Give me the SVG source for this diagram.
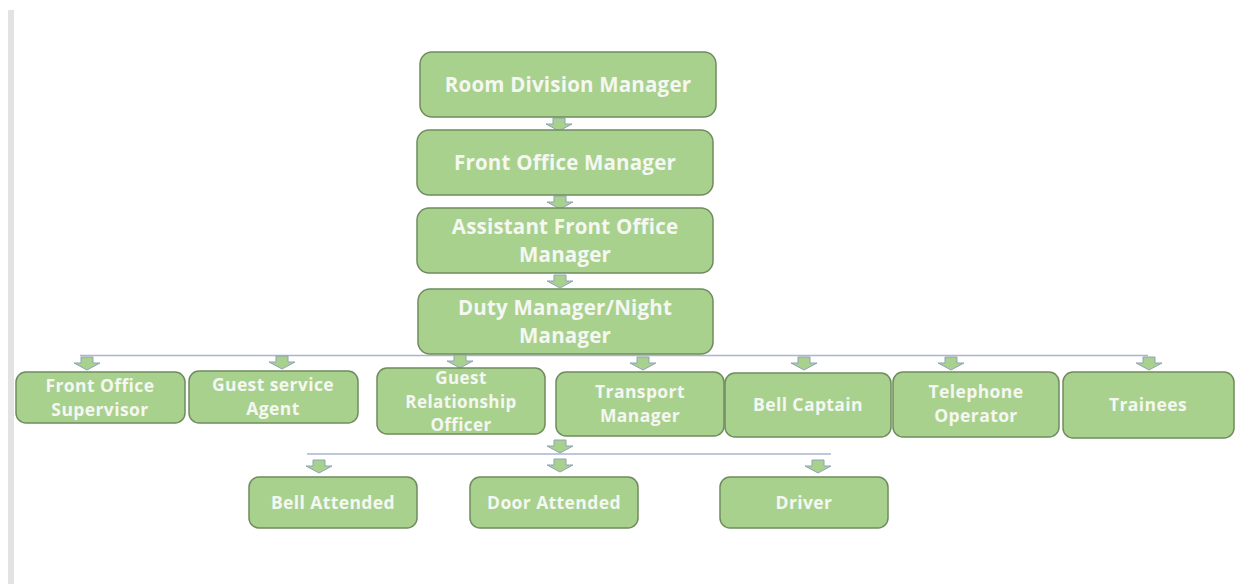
<svg xmlns="http://www.w3.org/2000/svg" width="1251" height="584" viewBox="0 0 1251 584">
  <defs>
    <style>
      .box { fill: #a9d18e; stroke: #6f8c5e; stroke-width: 1.5; }
      .lbl { font-family: "Open Sans", "Liberation Sans", sans-serif; font-weight: 700; fill: #f5f7f2; text-anchor: middle; }
      .big { font-size: 20.5px; letter-spacing: 0.2px; }
      .sm { font-size: 17.5px; letter-spacing: 0.4px; }
      .xs { font-size: 17px; letter-spacing: 0.4px; }
      .bus { stroke: #a7b6cf; stroke-width: 1.5; fill: none; }
      .arr { fill: #a9d18e; stroke: #8ea3b8; stroke-width: 1; }
    </style>
    <!-- block arrow, tip at (0,13) -->
    <path id="down" d="M-6,0 H6 V6 H13 L0,13 L-13,6 H-6 Z"/>
  </defs>

  <rect width="1251" height="584" fill="#ffffff"/>
  <rect x="8" y="10" width="6" height="574" fill="#e3e3e3"/>

  <g id="connectors">
    <path class="bus" d="M80,355.5 H1148"/>
    <path class="bus" d="M307,454 H831"/>
    <use href="#down" class="arr" x="559" y="118"/>
    <use href="#down" class="arr" x="560" y="196"/>
    <use href="#down" class="arr" x="560" y="275"/>
    <use href="#down" class="arr" x="87" y="357"/>
    <use href="#down" class="arr" x="282" y="356"/>
    <use href="#down" class="arr" x="460" y="355"/>
    <use href="#down" class="arr" x="643" y="357"/>
    <use href="#down" class="arr" x="804" y="357"/>
    <use href="#down" class="arr" x="951" y="357"/>
    <use href="#down" class="arr" x="1149" y="357"/>
    <use href="#down" class="arr" x="560" y="440"/>
    <use href="#down" class="arr" x="319" y="460"/>
    <use href="#down" class="arr" x="560" y="459"/>
    <use href="#down" class="arr" x="818" y="460"/>
  </g>

  <g id="room-division-manager">
    <rect class="box" x="420" y="52" width="296" height="65" rx="12"/>
    <text class="lbl big" x="568" y="92">Room Division Manager</text>
  </g>
  <g id="front-office-manager">
    <rect class="box" x="417" y="130" width="296" height="65" rx="12"/>
    <text class="lbl big" x="565" y="170">Front Office Manager</text>
  </g>
  <g id="assistant-front-office-manager">
    <rect class="box" x="417" y="208" width="296" height="65" rx="12"/>
    <text class="lbl big" x="565" y="234">Assistant Front Office</text>
    <text class="lbl big" x="565" y="262">Manager</text>
  </g>
  <g id="duty-manager">
    <rect class="box" x="418" y="289" width="295" height="65" rx="12"/>
    <text class="lbl big" x="565" y="315">Duty Manager/Night</text>
    <text class="lbl big" x="565" y="343">Manager</text>
  </g>

  <g id="front-office-supervisor">
    <rect class="box" x="16" y="372" width="169" height="51" rx="10"/>
    <text class="lbl sm" x="100" y="392">Front Office</text>
    <text class="lbl sm" x="100" y="416">Supervisor</text>
  </g>
  <g id="guest-service-agent">
    <rect class="box" x="189" y="371" width="169" height="52" rx="10"/>
    <text class="lbl sm" x="273" y="391">Guest service</text>
    <text class="lbl sm" x="273" y="415">Agent</text>
  </g>
  <g id="guest-relationship-officer">
    <rect class="box" x="377" y="368" width="168" height="66" rx="10"/>
    <text class="lbl xs" x="461" y="384">Guest</text>
    <text class="lbl xs" x="461" y="407.5">Relationship</text>
    <text class="lbl xs" x="461" y="431">Officer</text>
  </g>
  <g id="transport-manager">
    <rect class="box" x="556" y="372" width="168" height="64" rx="10"/>
    <text class="lbl sm" x="640" y="398">Transport</text>
    <text class="lbl sm" x="640" y="422">Manager</text>
  </g>
  <g id="bell-captain">
    <rect class="box" x="725" y="373" width="166" height="64" rx="10"/>
    <text class="lbl sm" x="808" y="411">Bell Captain</text>
  </g>
  <g id="telephone-operator">
    <rect class="box" x="893" y="372" width="166" height="65" rx="10"/>
    <text class="lbl sm" x="976" y="398">Telephone</text>
    <text class="lbl sm" x="976" y="422">Operator</text>
  </g>
  <g id="trainees">
    <rect class="box" x="1063" y="372" width="171" height="66" rx="10"/>
    <text class="lbl sm" x="1148" y="411">Trainees</text>
  </g>

  <g id="bell-attended">
    <rect class="box" x="249" y="477" width="168" height="51" rx="10"/>
    <text class="lbl sm" x="333" y="509">Bell Attended</text>
  </g>
  <g id="door-attended">
    <rect class="box" x="470" y="477" width="168" height="51" rx="10"/>
    <text class="lbl sm" x="554" y="509">Door Attended</text>
  </g>
  <g id="driver">
    <rect class="box" x="720" y="477" width="168" height="51" rx="10"/>
    <text class="lbl sm" x="804" y="509">Driver</text>
  </g>
</svg>
